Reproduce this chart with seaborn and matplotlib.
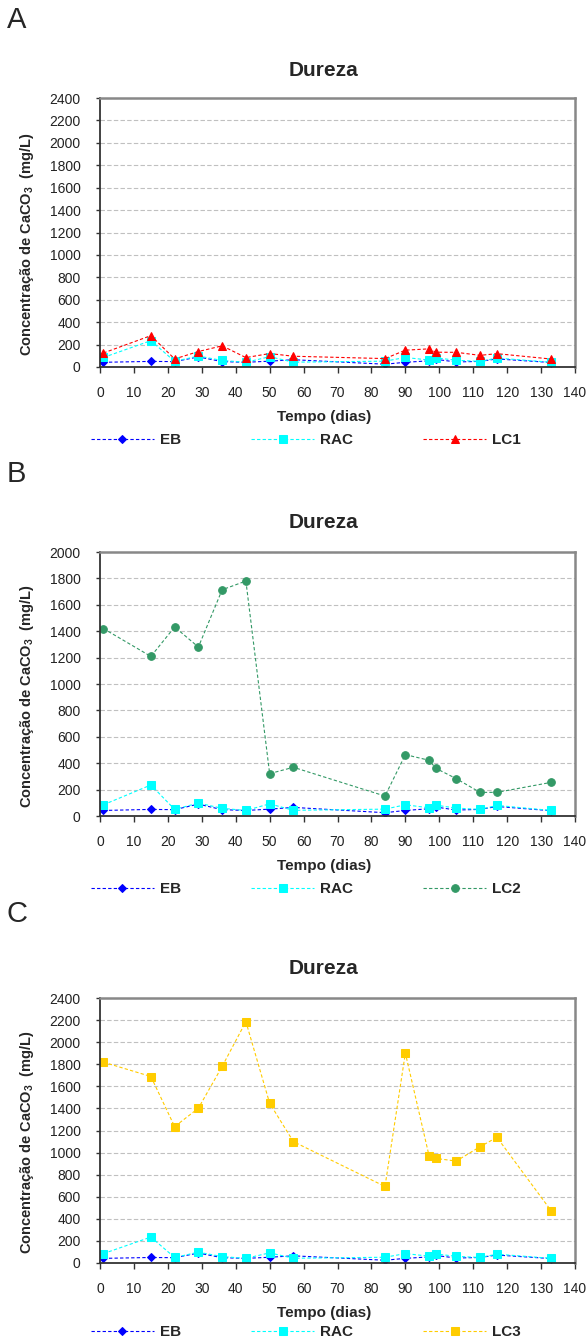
import pandas as pd
import seaborn as sns
import matplotlib.pyplot as plt

# Dados (dureza, mg/L de CaCO3)
dias = [1, 15, 22, 29, 36, 43, 50, 57, 84, 90, 97, 99, 105, 112, 117, 133]
eb = [42, 50, 48, 90, 48, 42, 52, 65, 25, 42, 55, 68, 45, 50, 72, 40]
rac = [85, 235, 50, 98, 58, 42, 92, 43, 52, 85, 62, 82, 60, 50, 80, 42]
lc1 = [125, 280, 72, 138, 189, 84, 120, 96, 75, 150, 162, 132, 131, 104, 119, 71]
lc2 = [1420, 1209, 1432, 1280, 1714, 1780, 321, 369, 151, 465, 422, 361, 283, 179, 179, 255]
lc3 = [1819, 1689, 1235, 1402, 1780, 2186, 1447, 1099, 693, 1901, 969, 947, 923, 1053, 1138, 472]

x_ticks = list(range(0, 141, 10))

sns.set_style('ticks')
plt.rcParams['font.family'] = ['Liberation Sans', 'DejaVu Sans']
plt.rcParams['mathtext.fontset'] = 'custom'
plt.rcParams['mathtext.rm'] = 'Liberation Sans:bold'
plt.rcParams['mathtext.it'] = 'Liberation Sans:italic'
plt.rcParams['mathtext.bf'] = 'Liberation Sans:bold'

W, H = 586, 1343
fig = plt.figure(figsize=(W / 100, H / 100), dpi=100)

# painel: letra, série LC, nome, cor, marcador, tamanho, ymax, (topo, base) do eixo, y título, y legenda, y letra
paineis = [
    ('A', lc1, 'LC1', '#ff0000', '^', 6.0, 2400, (98, 367), 70, 440, 20),
    ('B', lc2, 'LC2', '#339966', 'o', 5.5, 2000, (552, 816), 523, 889, 474),
    ('C', lc3, 'LC3', '#ffcc00', 's', 5.5, 2400, (998, 1263), 969, 1332, 914),
]

dash = (0, (3, 2))

for letra, lc, nome, cor, mk, ms, ymax, (top, bot), ty, ly, lety in paineis:
    ax = fig.add_axes([100 / W, 1 - bot / H, 475 / W, (bot - top) / H])
    df = pd.DataFrame({'Dias': dias, 'EB': eb, 'RAC': rac, nome: lc})

    sns.lineplot(data=df, x='Dias', y='EB', ax=ax, color='#0000ff', marker='D',
                 markersize=4.5, markeredgecolor='#0000ff', linestyle=dash,
                 linewidth=0.8, label='EB')
    sns.lineplot(data=df, x='Dias', y='RAC', ax=ax, color='#00ffff', marker='s',
                 markersize=5.5, markeredgecolor='#00ffff', linestyle=dash,
                 linewidth=0.8, label='RAC')
    sns.lineplot(data=df, x='Dias', y=nome, ax=ax, color=cor, marker=mk,
                 markersize=ms, markeredgecolor=cor, linestyle=dash,
                 linewidth=0.8, label=nome)

    ax.set_xlim(0, 140)
    ax.set_ylim(0, ymax)
    ax.set_xticks(x_ticks)
    ax.set_yticks(range(0, ymax + 1, 200))
    ax.yaxis.grid(True, color='#c0c0c0', linestyle=(0, (4, 2)), linewidth=0.8)
    ax.set_axisbelow(True)

    for s in ['left', 'bottom']:
        ax.spines[s].set_color('#333333')
        ax.spines[s].set_linewidth(1.3)
    for s in ['top', 'right']:
        ax.spines[s].set_color('#888888')
        ax.spines[s].set_linewidth(1.8)

    ax.tick_params(axis='x', direction='out', length=4, width=1, color='#333333',
                   pad=10, labelsize=10, labelcolor='#222222')
    ax.tick_params(axis='y', direction='out', length=3, width=1, color='#333333',
                   pad=11, labelsize=10, labelcolor='#222222')

    ax.set_xlabel('Tempo (dias)', fontsize=11, fontweight='bold')
    ax.set_ylabel(r'Concentração de CaCO$_3$  (mg/L)', fontsize=10.5, fontweight='bold')
    ax.xaxis.set_label_coords(224 / 475, -43 / (bot - top))
    ax.yaxis.set_label_coords(-64 / 475, 0.455)

    handles, labels = ax.get_legend_handles_labels()
    ax.get_legend().remove()
    fig.legend(handles, labels, loc='center', bbox_to_anchor=(306 / W, 1 - ly / H),
               ncol=3, frameon=False, handlelength=4.1, handletextpad=0.4,
               columnspacing=4.6, prop={'weight': 'bold', 'size': 11})

    fig.text(323 / W, 1 - ty / H, 'Dureza', ha='center', va='center',
             fontsize=15, fontweight='bold')
    fig.text(7 / W, 1 - lety / H, letra, ha='left', va='center', fontsize=21)

fig.savefig('out.png', dpi=100)
